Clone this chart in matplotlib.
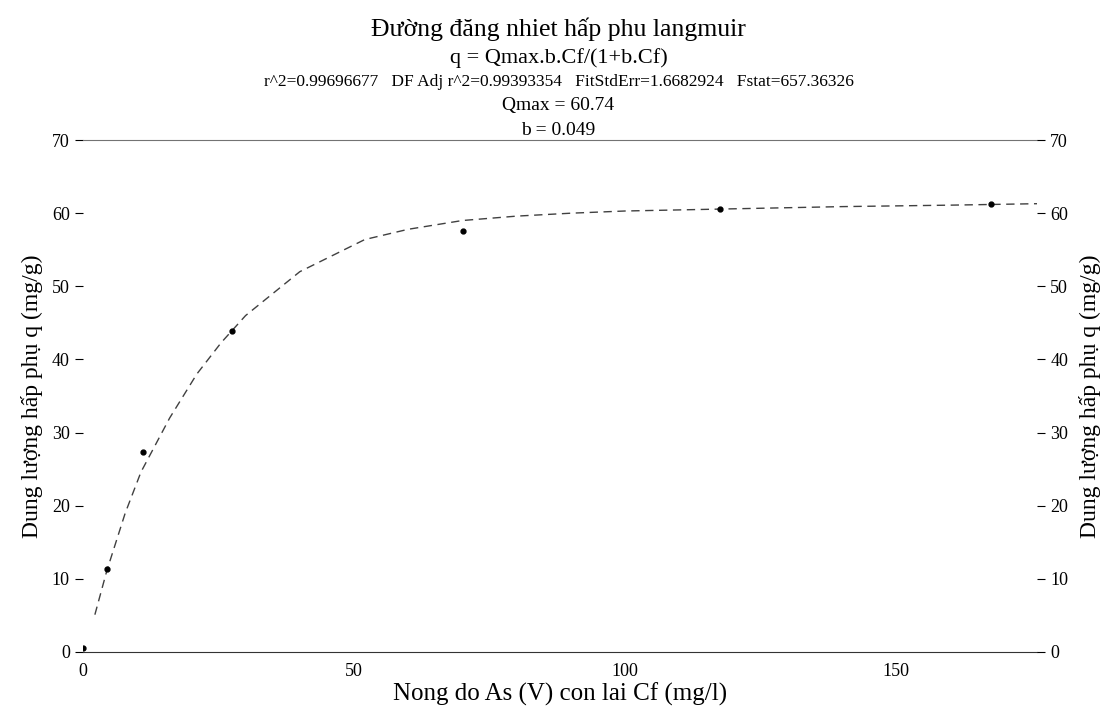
import matplotlib.pyplot as plt
from matplotlib import rcParams

# measured points: residual As(V) concentration Cf (mg/l) vs adsorbed q (mg/g)
cf_data = [0.0, 4.4, 11.1, 27.5, 70.2, 117.6, 167.6]
q_data = [0.5, 11.3, 27.4, 43.9, 57.6, 60.6, 61.3]

# fitted langmuir curve
cf_fit = [2.2, 4.4, 7.8, 10.7, 16.0, 21.0, 25.5, 30.0, 40.0, 52.0, 60.0,
          70.0, 80.0, 90.0, 100.0, 120.0, 140.0, 160.0, 176.0]
q_fit = [5.1, 11.1, 19.0, 24.6, 32.0, 38.0, 42.3, 46.0, 52.0, 56.4, 57.8,
         59.0, 59.6, 60.0, 60.3, 60.6, 60.9, 61.1, 61.3]

x_ticks = [0, 50, 100, 150]
y_ticks = [0, 10, 20, 30, 40, 50, 60, 70]

title_lines = [
    ('Đường đăng nhiet hấp phu langmuir', 18.5),
    ('q = Qmax.b.Cf/(1+b.Cf)', 16),
    ('r^2=0.99696677   DF Adj r^2=0.99393354   FitStdErr=1.6682924   Fstat=657.36326', 12.5),
    ('Qmax = 60.74', 14),
    ('b = 0.049', 14),
]
y_label = 'Dung lượng hấp phụ q (mg/g)'
x_label = 'Nong do As (V) con lai Cf (mg/l)'


def main():
    rcParams['font.family'] = ['Liberation Serif', 'DejaVu Serif']
    fig = plt.figure(figsize=(11.06, 7.11), dpi=100)
    ax = fig.add_axes([0.075, 0.083, 0.8626, 0.72])

    ax.plot(cf_fit, q_fit, linestyle=(0, (6, 4)), color='0.25', linewidth=1.0)
    ax.plot(cf_data, q_data, 'o', color='black', markersize=3.5)

    ax.set_xlim(0, 176)
    ax.set_ylim(0, 70)
    ax.set_xticks(x_ticks)
    ax.set_yticks(y_ticks)
    ax.tick_params(axis='x', length=0, labelsize=13, pad=8)
    ax.tick_params(axis='y', length=6, labelsize=13, direction='out')

    for side in ['left', 'right']:
        ax.spines[side].set_visible(False)
    ax.spines['top'].set_color('0.45')
    ax.spines['bottom'].set_color('0.2')

    ax2 = ax.twinx()
    ax2.set_ylim(0, 70)
    ax2.set_yticks(y_ticks)
    ax2.tick_params(axis='y', length=6, labelsize=13, direction='out')
    for side in ['left', 'right', 'top', 'bottom']:
        ax2.spines[side].set_visible(False)
    ax2.set_ylabel(y_label, fontsize=17, labelpad=8)

    ax.set_ylabel(y_label, fontsize=17, labelpad=6)
    ax.set_xlabel(x_label, fontsize=18, labelpad=2)

    y_pos = [0.959, 0.918, 0.885, 0.851, 0.817]
    for (txt, size), yp in zip(title_lines, y_pos):
        fig.text(0.505, yp, txt, ha='center', va='center', fontsize=size)

    fig.savefig('out.png', dpi=100)


if __name__ == '__main__':
    main()
